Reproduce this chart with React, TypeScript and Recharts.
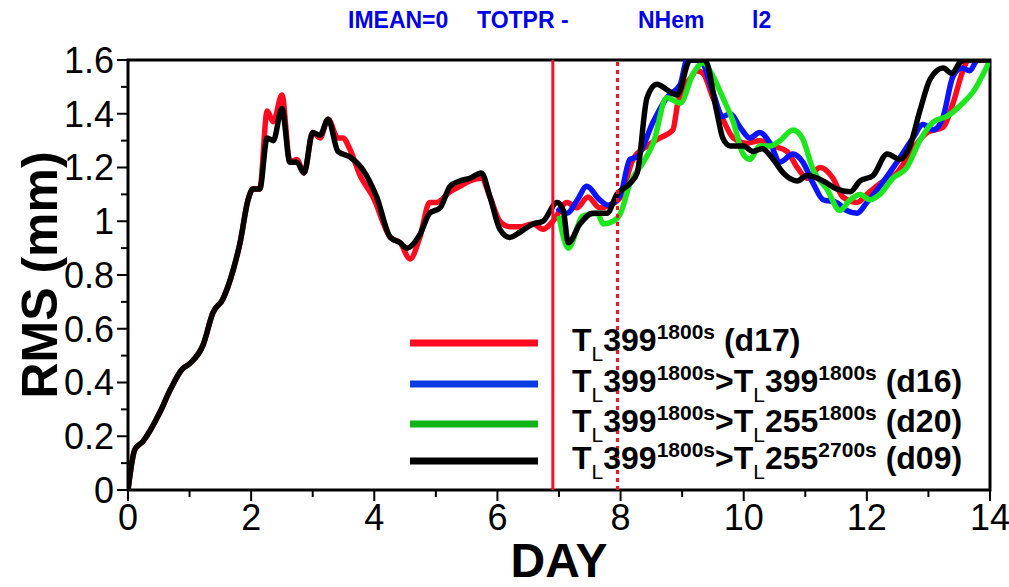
import React from 'react'
import { LineChart, Line, XAxis, YAxis, ReferenceLine, ReferenceArea, Label } from 'recharts'

type Pt = [number, number]

// shared spin-up (all experiments identical until ~day 2)
const spinUp: Pt[] = [
  [0, 0], [0.11, 0.15], [0.24, 0.18], [0.52, 0.29], [0.68, 0.37], [0.88, 0.45], [1.0, 0.47],
  [1.22, 0.54], [1.38, 0.66], [1.54, 0.71], [1.71, 0.82], [1.82, 0.92], [1.95, 1.08], [2.03, 1.12], [2.14, 1.12],
]

const d17: Pt[] = [
  ...spinUp,
  [2.26, 1.41], [2.36, 1.37], [2.5, 1.47], [2.63, 1.22], [2.74, 1.23], [2.86, 1.18], [3.0, 1.33], [3.12, 1.31],
  [3.25, 1.38], [3.41, 1.31], [3.49, 1.31], [3.6, 1.27], [3.77, 1.17], [3.98, 1.09], [4.26, 0.94], [4.42, 0.92],
  [4.58, 0.86], [4.74, 0.94], [4.9, 1.07], [5.01, 1.07], [5.23, 1.11], [5.39, 1.13], [5.55, 1.15], [5.74, 1.16],
  [5.88, 1.09], [6.04, 1.0], [6.2, 0.98], [6.37, 0.98], [6.58, 0.99], [6.74, 0.97], [6.9, 1.0], [7.13, 1.07],
  [7.29, 1.05], [7.47, 1.09], [7.66, 1.05], [7.83, 1.06], [8.0, 1.09], [8.2, 1.23], [8.43, 1.28], [8.64, 1.31],
  [8.85, 1.34], [8.93, 1.44], [9.13, 1.53], [9.24, 1.56], [9.34, 1.55], [9.5, 1.46], [9.66, 1.38], [9.83, 1.31],
  [10.05, 1.29], [10.26, 1.3], [10.48, 1.28], [10.7, 1.26], [10.87, 1.2], [11.03, 1.16], [11.24, 1.2], [11.45, 1.16],
  [11.61, 1.09], [11.84, 1.07], [12.0, 1.1], [12.21, 1.14], [12.49, 1.18], [12.75, 1.27], [12.98, 1.33],
  [13.24, 1.35], [13.4, 1.44], [13.56, 1.56], [13.65, 1.6], [14.0, 1.6],
]

const d16: Pt[] = [
  [6.97, 1.05], [7.13, 1.03], [7.3, 1.08], [7.45, 1.13], [7.66, 1.08], [7.8, 1.06], [8.0, 1.1], [8.15, 1.23],
  [8.27, 1.24], [8.53, 1.37], [8.75, 1.46], [8.97, 1.51], [9.08, 1.6], [9.29, 1.6], [9.5, 1.48], [9.66, 1.39],
  [9.78, 1.4], [9.94, 1.35], [10.1, 1.31], [10.26, 1.33], [10.43, 1.29], [10.59, 1.22], [10.8, 1.25], [10.96, 1.22],
  [11.13, 1.14], [11.29, 1.08], [11.51, 1.07], [11.67, 1.04], [11.84, 1.03], [12.0, 1.07], [12.21, 1.13],
  [12.49, 1.22], [12.75, 1.31], [12.91, 1.36], [13.08, 1.34], [13.24, 1.39], [13.4, 1.54], [13.54, 1.57],
  [13.67, 1.56], [13.8, 1.6], [14.0, 1.6],
]

const d20: Pt[] = [
  [7.0, 1.02], [7.15, 0.9], [7.39, 1.02], [7.62, 1.03], [7.72, 0.99], [7.88, 1.0], [8.0, 1.03], [8.15, 1.14],
  [8.37, 1.22], [8.53, 1.29], [8.75, 1.46], [8.97, 1.44], [9.18, 1.55], [9.34, 1.59], [9.5, 1.54], [9.66, 1.46],
  [9.83, 1.37], [9.99, 1.25], [10.1, 1.23], [10.26, 1.28], [10.43, 1.28], [10.59, 1.3], [10.8, 1.34], [10.95, 1.31],
  [11.13, 1.19], [11.35, 1.12], [11.56, 1.04], [11.73, 1.08], [11.89, 1.1], [12.05, 1.08], [12.21, 1.1],
  [12.42, 1.16], [12.65, 1.2], [12.86, 1.3], [13.08, 1.37], [13.3, 1.39], [13.56, 1.44], [13.72, 1.48], [14.0, 1.6],
]

const d09: Pt[] = [
  ...spinUp,
  [2.26, 1.31], [2.36, 1.3], [2.5, 1.42], [2.63, 1.22], [2.74, 1.22], [2.86, 1.18], [3.0, 1.33], [3.12, 1.32],
  [3.25, 1.38], [3.41, 1.26], [3.6, 1.24], [3.82, 1.19], [4.04, 1.09], [4.26, 0.94], [4.42, 0.92], [4.53, 0.9],
  [4.74, 0.95], [4.9, 1.03], [5.07, 1.05], [5.23, 1.13], [5.39, 1.15], [5.55, 1.16], [5.74, 1.18], [5.88, 1.09],
  [6.04, 0.97], [6.2, 0.94], [6.37, 0.96], [6.58, 0.99], [6.74, 1.0], [6.97, 1.07], [7.07, 1.04], [7.15, 0.92],
  [7.34, 0.99], [7.55, 1.03], [7.78, 1.03], [7.94, 1.1], [8.15, 1.14], [8.27, 1.18], [8.43, 1.46], [8.59, 1.51],
  [8.75, 1.49], [8.92, 1.47], [9.13, 1.6], [9.37, 1.6], [9.56, 1.41], [9.66, 1.31], [9.78, 1.28], [9.99, 1.28],
  [10.15, 1.26], [10.3, 1.27], [10.48, 1.23], [10.64, 1.18], [10.87, 1.15], [11.03, 1.17], [11.29, 1.15],
  [11.51, 1.12], [11.73, 1.11], [11.89, 1.15], [12.1, 1.17], [12.33, 1.25], [12.54, 1.23], [12.7, 1.28],
  [12.86, 1.41], [13.03, 1.53], [13.24, 1.57], [13.38, 1.55], [13.51, 1.59], [13.6, 1.6], [14.0, 1.6],
]

const series = [
  { id: 'd17', color: '#ff0a1e', legendColor: '#ff0a1e', pts: d17, label: 'T_{L}399^{1800s} (d17)' },
  { id: 'd16', color: '#0a14ff', legendColor: '#0a3ce0', pts: d16, label: 'T_{L}399^{1800s}>T_{L}399^{1800s} (d16)' },
  { id: 'd20', color: '#1ee61e', legendColor: '#10b414', pts: d20, label: 'T_{L}399^{1800s}>T_{L}255^{1800s} (d20)' },
  { id: 'd09', color: '#000000', legendColor: '#000000', pts: d09, label: 'T_{L}399^{1800s}>T_{L}255^{2700s} (d09)' },
]

const yTicks = [0, 0.1, 0.2, 0.3, 0.4, 0.5, 0.6, 0.7, 0.8, 0.9, 1, 1.1, 1.2, 1.3, 1.4, 1.5, 1.6]
const xTicks = [0, 1, 2, 3, 4, 5, 6, 7, 8, 9, 10, 11, 12, 13, 14]
const forecastStart = 6.9
const verifyDay = 7.95
const titleParts = [
  { text: 'IMEAN=0', x: 348 },
  { text: 'TOTPR -', x: 477 },
  { text: 'NHem', x: 638 },
  { text: 'l2', x: 752 },
]

const FONT = '"Liberation Sans", Arial, Helvetica, sans-serif'
const W = 1009
const H = 587
const TICK = 10
const GAP = 4

const YTick = (props: any) => {
  const { x, y, payload, index } = props
  const axisX = x + TICK + GAP
  const major = index % 2 === 0
  return (
    <g>
      <line x1={axisX - (major ? 11 : 7)} x2={axisX} y1={y} y2={y} stroke="#000" strokeWidth={2} />
      {major && (
        <text x={x} y={y} dy="0.36em" textAnchor="end" fontSize={36} fontFamily={FONT} fill="#000">
          {String(Number(payload.value.toFixed(1)))}
        </text>
      )}
    </g>
  )
}

const XTick = (props: any) => {
  const { x, y, payload, index } = props
  const axisY = y - TICK - GAP
  const major = index % 2 === 0
  return (
    <g>
      <line x1={x} x2={x} y1={axisY} y2={axisY + (major ? 11 : 7)} stroke="#000" strokeWidth={2} />
      {major && (
        <text x={x} y={y} dy="0.71em" textAnchor="middle" fontSize={36} fontFamily={FONT} fill="#000">
          {payload.value}
        </text>
      )}
    </g>
  )
}

// "T_{L}399^{1800s}" -> segments with sub/sup shifts
const parseLabel = (s: string) => {
  const out: { t: string; k: 'n' | 'sub' | 'sup' }[] = []
  const re = /_\{([^}]*)\}|\^\{([^}]*)\}|([^_^]+)/g
  let m
  while ((m = re.exec(s))) {
    if (m[1] !== undefined) out.push({ t: m[1], k: 'sub' })
    else if (m[2] !== undefined) out.push({ t: m[2], k: 'sup' })
    else out.push({ t: m[3], k: 'n' })
  }
  return out
}

const LegendRow = ({ label, color, y }: { label: string; color: string; y: number }) => {
  const segs = parseLabel(label)
  let prev = 0
  return (
    <g>
      <line x1={410} x2={538} y1={y} y2={y} stroke={color} strokeWidth={7} />
      <text x={572} y={y + 8} fontFamily={FONT} fontWeight="bold" fontSize={32} fill="#000">
        {segs.map((sg, i) => {
          const shift = sg.k === 'sub' ? 10 : sg.k === 'sup' ? -12 : 0
          const dy = shift - prev
          prev = shift
          return (
            <tspan key={i} dy={dy} fontSize={sg.k === 'n' ? 32 : 21} fontWeight={sg.k === 'sub' ? 'normal' : 'bold'}>
              {sg.t}
            </tspan>
          )
        })}
      </text>
    </g>
  )
}

const legendY = [343, 384, 424, 461]

export default function App() {
  return (
    <div style={{ position: 'absolute', left: 0, top: 0, width: W, height: H, background: '#fff' }}>
      <LineChart width={W} height={H} margin={{ top: 60, right: 19, bottom: 0, left: 0 }}>
        <XAxis
          dataKey="day"
          type="number"
          domain={[0, 14]}
          ticks={xTicks}
          allowDataOverflow
          height={97}
          tickSize={TICK}
          tickMargin={GAP}
          tickLine={false}
          axisLine={false}
          tick={XTick}
          interval={0}
        >
          <Label
            content={({ viewBox }: any) => (
              <text
                x={viewBox.x + viewBox.width / 2}
                y={577}
                textAnchor="middle"
                fontSize={48}
                fontWeight="bold"
                fontFamily={FONT}
                fill="#000"
              >
                DAY
              </text>
            )}
          />
        </XAxis>
        <YAxis
          type="number"
          domain={[0, 1.6]}
          ticks={yTicks}
          allowDataOverflow
          width={128}
          tickSize={TICK}
          tickMargin={GAP}
          tickLine={false}
          axisLine={false}
          tick={YTick}
          interval={0}
        >
          <Label
            content={({ viewBox }: any) => (
              <text
                transform={`translate(57, ${viewBox.y + viewBox.height / 2}) rotate(-90)`}
                textAnchor="middle"
                fontSize={50}
                fontWeight="bold"
                fontFamily={FONT}
                fill="#000"
              >
                RMS (mm)
              </text>
            )}
          />
        </YAxis>
        <ReferenceArea x1={0} x2={14} y1={0} y2={1.6} fill="none" stroke="#000" strokeWidth={3} />
        {series.map((s) => (
          <Line
            key={s.id}
            name={s.id}
            data={s.pts.map(([day, rms]) => ({ day, rms }))}
            dataKey="rms"
            type="monotone"
            stroke={s.color}
            strokeWidth={5.5}
            dot={false}
            isAnimationActive={false}
          />
        ))}
        <ReferenceLine x={forecastStart} stroke="#f5102a" strokeWidth={3} />
        <ReferenceLine x={verifyDay} stroke="#f5102a" strokeWidth={3} strokeDasharray="4 4" />
      </LineChart>
      <svg width={W} height={H} style={{ position: 'absolute', left: 0, top: 0, pointerEvents: 'none' }}>
        {titleParts.map((p) => (
          <text key={p.text} x={p.x} y={28} fontSize={23} fontWeight="bold" fontFamily={FONT} fill="#0000e6">
            {p.text}
          </text>
        ))}
        {series.map((s, i) => (
          <LegendRow key={s.id} label={s.label} color={s.legendColor} y={legendY[i]} />
        ))}
      </svg>
    </div>
  )
}
